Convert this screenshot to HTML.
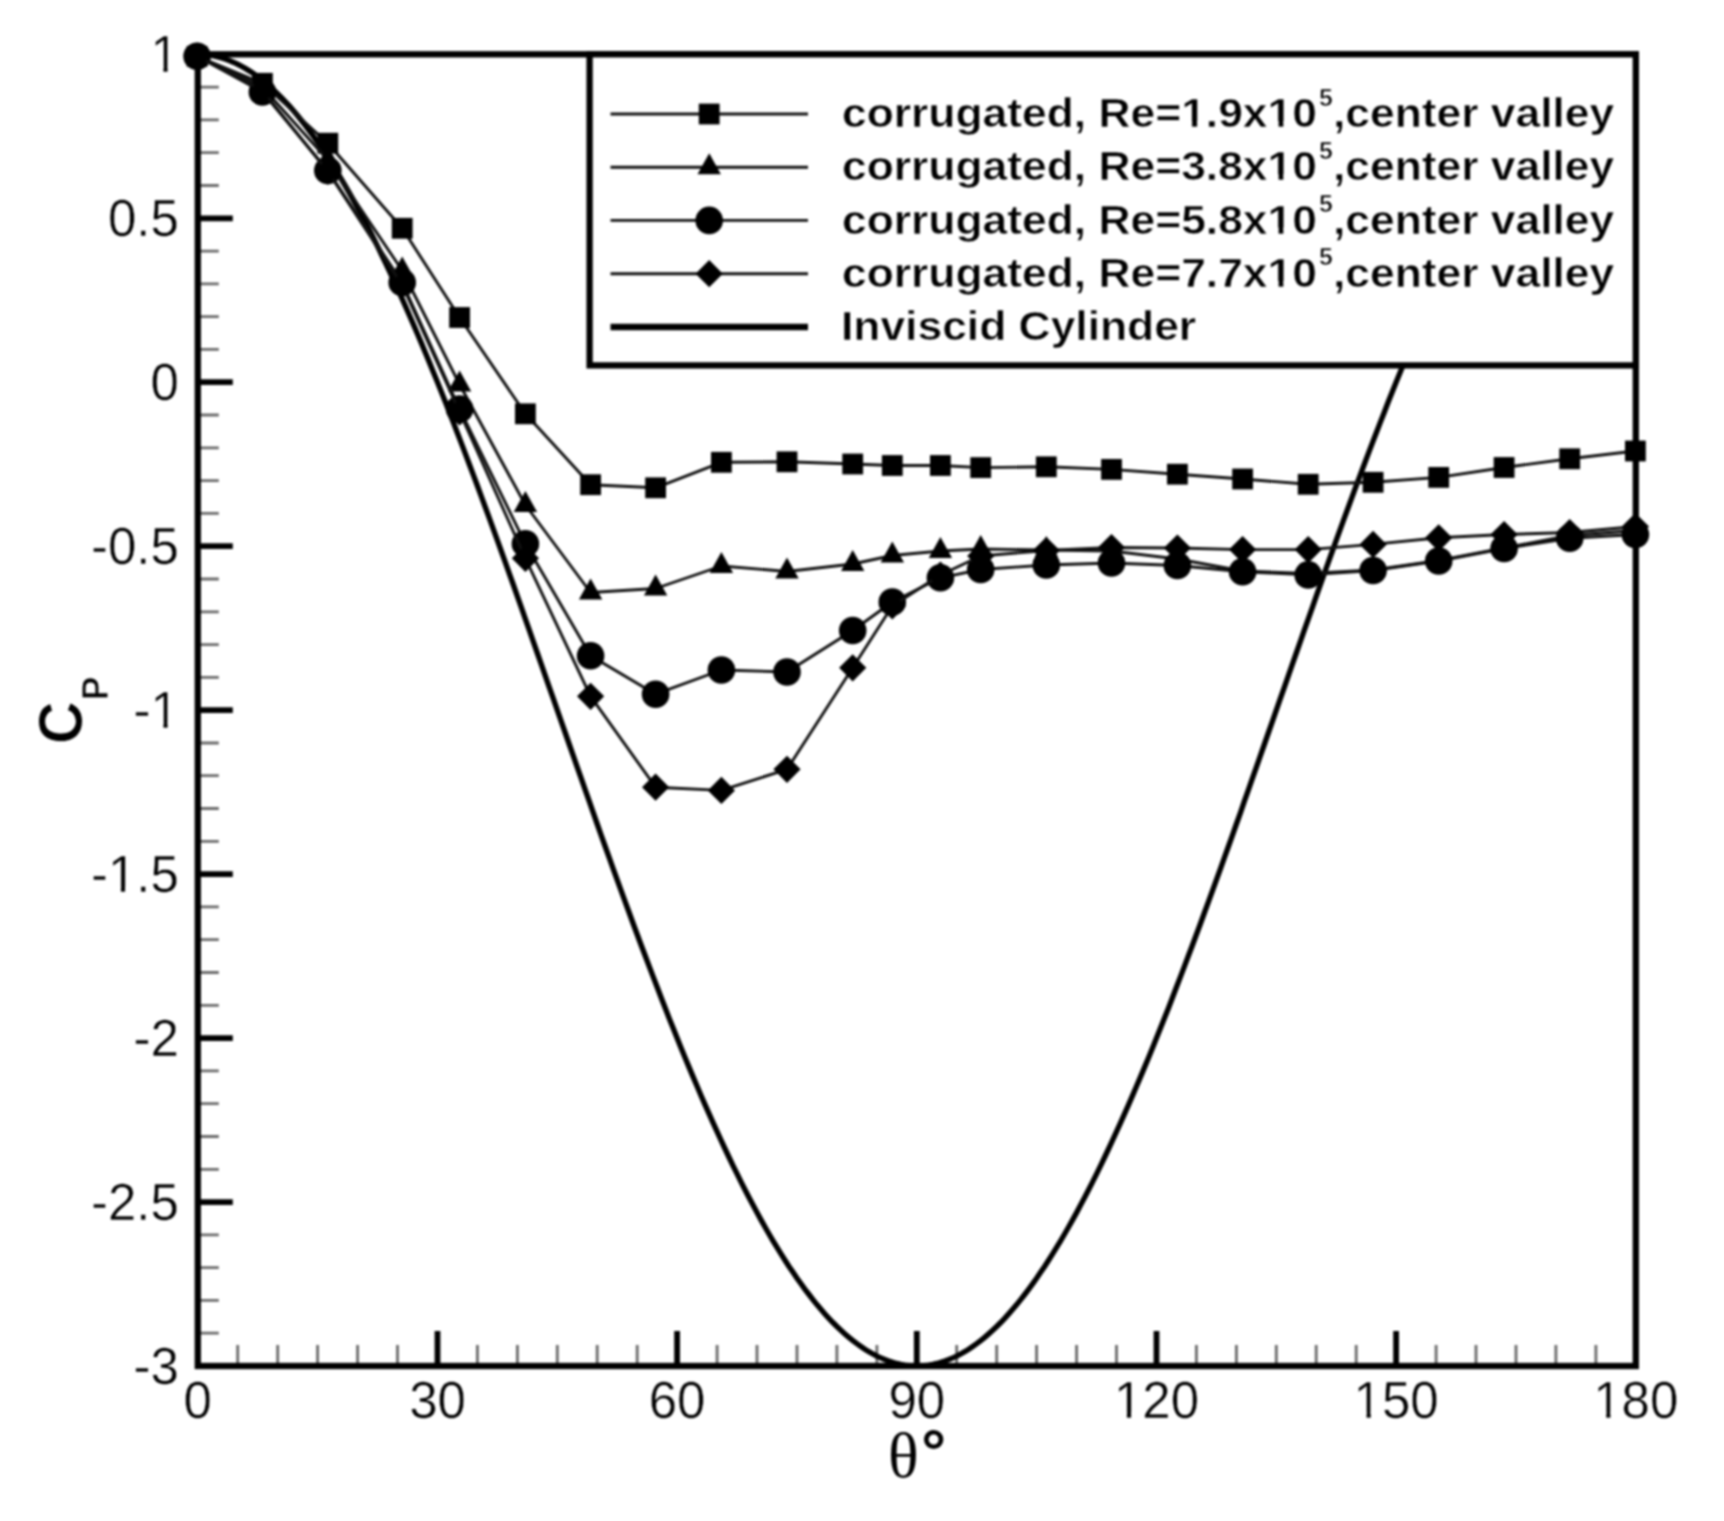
<!DOCTYPE html>
<html lang="en"><head><meta charset="utf-8"><title>Cp distribution</title>
<style>html,body{margin:0;padding:0;background:#fff}body{width:1724px;height:1521px;overflow:hidden}svg{display:block;filter:blur(1.1px)}</style>
</head><body>
<svg width="1724" height="1521" viewBox="0 0 1724 1521">
<rect width="1724" height="1521" fill="#fff"/>
<defs><clipPath id="pc"><rect x="197.8" y="54.3" width="1438.002" height="1311.72"/></clipPath></defs>
<path d="M197.8,87.1h21 M197.8,119.9h21 M197.8,152.7h21 M197.8,185.5h21 M197.8,251.1h21 M197.8,283.9h21 M197.8,316.6h21 M197.8,349.4h21 M197.8,415.0h21 M197.8,447.8h21 M197.8,480.6h21 M197.8,513.4h21 M197.8,579.0h21 M197.8,611.8h21 M197.8,644.6h21 M197.8,677.4h21 M197.8,743.0h21 M197.8,775.7h21 M197.8,808.5h21 M197.8,841.3h21 M197.8,906.9h21 M197.8,939.7h21 M197.8,972.5h21 M197.8,1005.3h21 M197.8,1070.9h21 M197.8,1103.7h21 M197.8,1136.5h21 M197.8,1169.3h21 M197.8,1234.8h21 M197.8,1267.6h21 M197.8,1300.4h21 M197.8,1333.2h21 M237.7,1366.02v-21 M277.7,1366.02v-21 M317.6,1366.02v-21 M357.6,1366.02v-21 M397.5,1366.02v-21 M477.4,1366.02v-21 M517.4,1366.02v-21 M557.3,1366.02v-21 M597.2,1366.02v-21 M637.2,1366.02v-21 M717.1,1366.02v-21 M757.0,1366.02v-21 M797.0,1366.02v-21 M836.9,1366.02v-21 M876.9,1366.02v-21 M956.7,1366.02v-21 M996.7,1366.02v-21 M1036.6,1366.02v-21 M1076.6,1366.02v-21 M1116.5,1366.02v-21 M1196.4,1366.02v-21 M1236.4,1366.02v-21 M1276.3,1366.02v-21 M1316.2,1366.02v-21 M1356.2,1366.02v-21 M1436.1,1366.02v-21 M1476.0,1366.02v-21 M1516.0,1366.02v-21 M1555.9,1366.02v-21 M1595.9,1366.02v-21" stroke="#6a6a6a" stroke-width="2.8" fill="none"/>
<path d="M197.8,218.3h35 M197.8,382.2h35 M197.8,546.2h35 M197.8,710.2h35 M197.8,874.1h35 M197.8,1038.1h35 M197.8,1202.1h35 M437.5,1366.02v-35 M677.1,1366.02v-35 M916.8,1366.02v-35 M1156.5,1366.02v-35 M1396.1,1366.02v-35" stroke="#000" stroke-width="5.8" fill="none"/>
<g clip-path="url(#pc)"><polyline points="197.8,54.3 201.8,54.4 205.8,54.7 209.8,55.2 213.8,55.9 217.8,56.8 221.8,57.9 225.8,59.2 229.8,60.7 233.8,62.4 237.7,64.3 241.7,66.3 245.7,68.6 249.7,71.1 253.7,73.8 257.7,76.6 261.7,79.7 265.7,83.0 269.7,86.4 273.7,90.0 277.7,93.9 281.7,97.9 285.7,102.1 289.7,106.4 293.7,111.0 297.7,115.7 301.7,120.7 305.7,125.8 309.6,131.1 313.6,136.5 317.6,142.2 321.6,148.0 325.6,154.0 329.6,160.1 333.6,166.4 337.6,172.9 341.6,179.6 345.6,186.4 349.6,193.3 353.6,200.5 357.6,207.7 361.6,215.2 365.6,222.8 369.6,230.5 373.6,238.4 377.6,246.4 381.5,254.6 385.5,262.9 389.5,271.3 393.5,279.9 397.5,288.6 401.5,297.4 405.5,306.4 409.5,315.5 413.5,324.7 417.5,334.0 421.5,343.4 425.5,353.0 429.5,362.6 433.5,372.4 437.5,382.2 441.5,392.2 445.5,402.3 449.5,412.4 453.4,422.6 457.4,433.0 461.4,443.4 465.4,453.9 469.4,464.5 473.4,475.1 477.4,485.8 481.4,496.6 485.4,507.5 489.4,518.4 493.4,529.4 497.4,540.4 501.4,551.5 505.4,562.6 509.4,573.8 513.4,585.0 517.4,596.3 521.4,607.6 525.3,618.9 529.3,630.2 533.3,641.6 537.3,653.0 541.3,664.4 545.3,675.8 549.3,687.3 553.3,698.7 557.3,710.2 561.3,721.6 565.3,733.0 569.3,744.5 573.3,755.9 577.3,767.3 581.3,778.7 585.3,790.1 589.3,801.4 593.3,812.8 597.2,824.0 601.2,835.3 605.2,846.5 609.2,857.7 613.2,868.8 617.2,879.9 621.2,890.9 625.2,901.9 629.2,912.8 633.2,923.7 637.2,934.5 641.2,945.2 645.2,955.8 649.2,966.4 653.2,976.9 657.2,987.3 661.2,997.7 665.2,1007.9 669.1,1018.1 673.1,1028.1 677.1,1038.1 681.1,1048.0 685.1,1057.7 689.1,1067.4 693.1,1076.9 697.1,1086.3 701.1,1095.7 705.1,1104.9 709.1,1113.9 713.1,1122.9 717.1,1131.7 721.1,1140.4 725.1,1149.0 729.1,1157.5 733.1,1165.8 737.1,1173.9 741.0,1181.9 745.0,1189.8 749.0,1197.6 753.0,1205.1 757.0,1212.6 761.0,1219.9 765.0,1227.0 769.0,1234.0 773.0,1240.8 777.0,1247.4 781.0,1253.9 785.0,1260.2 789.0,1266.4 793.0,1272.3 797.0,1278.2 801.0,1283.8 805.0,1289.3 809.0,1294.5 812.9,1299.6 816.9,1304.6 820.9,1309.3 824.9,1313.9 828.9,1318.3 832.9,1322.5 836.9,1326.5 840.9,1330.3 844.9,1333.9 848.9,1337.4 852.9,1340.6 856.9,1343.7 860.9,1346.5 864.9,1349.2 868.9,1351.7 872.9,1354.0 876.9,1356.1 880.9,1357.9 884.8,1359.6 888.8,1361.1 892.8,1362.4 896.8,1363.5 900.8,1364.4 904.8,1365.1 908.8,1365.6 912.8,1365.9 916.8,1366.0 920.8,1365.9 924.8,1365.6 928.8,1365.1 932.8,1364.4 936.8,1363.5 940.8,1362.4 944.8,1361.1 948.8,1359.6 952.8,1357.9 956.7,1356.1 960.7,1354.0 964.7,1351.7 968.7,1349.2 972.7,1346.5 976.7,1343.7 980.7,1340.6 984.7,1337.4 988.7,1333.9 992.7,1330.3 996.7,1326.5 1000.7,1322.5 1004.7,1318.3 1008.7,1313.9 1012.7,1309.3 1016.7,1304.6 1020.7,1299.6 1024.7,1294.5 1028.6,1289.3 1032.6,1283.8 1036.6,1278.2 1040.6,1272.3 1044.6,1266.4 1048.6,1260.2 1052.6,1253.9 1056.6,1247.4 1060.6,1240.8 1064.6,1234.0 1068.6,1227.0 1072.6,1219.9 1076.6,1212.6 1080.6,1205.1 1084.6,1197.6 1088.6,1189.8 1092.6,1181.9 1096.6,1173.9 1100.5,1165.8 1104.5,1157.5 1108.5,1149.0 1112.5,1140.4 1116.5,1131.7 1120.5,1122.9 1124.5,1113.9 1128.5,1104.9 1132.5,1095.7 1136.5,1086.3 1140.5,1076.9 1144.5,1067.4 1148.5,1057.7 1152.5,1048.0 1156.5,1038.1 1160.5,1028.1 1164.5,1018.1 1168.5,1007.9 1172.4,997.7 1176.4,987.3 1180.4,976.9 1184.4,966.4 1188.4,955.8 1192.4,945.2 1196.4,934.5 1200.4,923.7 1204.4,912.8 1208.4,901.9 1212.4,890.9 1216.4,879.9 1220.4,868.8 1224.4,857.7 1228.4,846.5 1232.4,835.3 1236.4,824.0 1240.4,812.8 1244.3,801.4 1248.3,790.1 1252.3,778.7 1256.3,767.3 1260.3,755.9 1264.3,744.5 1268.3,733.0 1272.3,721.6 1276.3,710.2 1280.3,698.7 1284.3,687.3 1288.3,675.8 1292.3,664.4 1296.3,653.0 1300.3,641.6 1304.3,630.2 1308.3,618.9 1312.3,607.6 1316.2,596.3 1320.2,585.0 1324.2,573.8 1328.2,562.6 1332.2,551.5 1336.2,540.4 1340.2,529.4 1344.2,518.4 1348.2,507.5 1352.2,496.6 1356.2,485.8 1360.2,475.1 1364.2,464.5 1368.2,453.9 1372.2,443.4 1376.2,433.0 1380.2,422.6 1384.2,412.4 1388.1,402.3 1392.1,392.2 1396.1,382.2 1400.1,372.4 1404.1,362.6 1408.1,353.0 1412.1,343.4 1416.1,334.0 1420.1,324.7 1424.1,315.5 1428.1,306.4 1432.1,297.4 1436.1,288.6 1440.1,279.9 1444.1,271.3 1448.1,262.9 1452.1,254.6 1456.1,246.4 1460.0,238.4 1464.0,230.5 1468.0,222.8 1472.0,215.2 1476.0,207.7 1480.0,200.5 1484.0,193.3 1488.0,186.4 1492.0,179.6 1496.0,172.9 1500.0,166.4 1504.0,160.1 1508.0,154.0 1512.0,148.0 1516.0,142.2 1520.0,136.5 1524.0,131.1 1528.0,125.8 1531.9,120.7 1535.9,115.7 1539.9,111.0 1543.9,106.4 1547.9,102.1 1551.9,97.9 1555.9,93.9 1559.9,90.0 1563.9,86.4 1567.9,83.0 1571.9,79.7 1575.9,76.6 1579.9,73.8 1583.9,71.1 1587.9,68.6 1591.9,66.3 1595.9,64.3 1599.9,62.4 1603.8,60.7 1607.8,59.2 1611.8,57.9 1615.8,56.8 1619.8,55.9 1623.8,55.2 1627.8,54.7 1631.8,54.4 1635.8,54.3" fill="none" stroke="#000" stroke-width="5.4"/></g>
<g fill="#000">
<polyline points="197.1,56.3 262.4,83.3 327.8,143.2 402.2,228.3 459.6,317.5 525.4,413.8 590.6,484.7 655.6,487.8 721.4,462.3 787.0,461.8 852.7,464.0 892.3,465.5 940.4,465.5 980.7,467.6 1046.3,466.8 1111.5,469.4 1177.4,474.2 1242.6,479.0 1308.2,484.3 1373.1,482.3 1438.7,477.4 1504.1,467.5 1569.7,458.8 1635.4,451.0" fill="none" stroke="#111" stroke-width="2.9" stroke-linejoin="round"/><rect x="186.7" y="45.9" width="20.8" height="20.8"/><rect x="252.0" y="72.9" width="20.8" height="20.8"/><rect x="317.4" y="132.8" width="20.8" height="20.8"/><rect x="391.8" y="217.9" width="20.8" height="20.8"/><rect x="449.2" y="307.1" width="20.8" height="20.8"/><rect x="515.0" y="403.4" width="20.8" height="20.8"/><rect x="580.2" y="474.3" width="20.8" height="20.8"/><rect x="645.2" y="477.4" width="20.8" height="20.8"/><rect x="711.0" y="451.9" width="20.8" height="20.8"/><rect x="776.6" y="451.4" width="20.8" height="20.8"/><rect x="842.3" y="453.6" width="20.8" height="20.8"/><rect x="881.9" y="455.1" width="20.8" height="20.8"/><rect x="930.0" y="455.1" width="20.8" height="20.8"/><rect x="970.3" y="457.2" width="20.8" height="20.8"/><rect x="1035.9" y="456.4" width="20.8" height="20.8"/><rect x="1101.1" y="459.0" width="20.8" height="20.8"/><rect x="1167.0" y="463.8" width="20.8" height="20.8"/><rect x="1232.2" y="468.6" width="20.8" height="20.8"/><rect x="1297.8" y="473.9" width="20.8" height="20.8"/><rect x="1362.7" y="471.9" width="20.8" height="20.8"/><rect x="1428.3" y="467.0" width="20.8" height="20.8"/><rect x="1493.7" y="457.1" width="20.8" height="20.8"/><rect x="1559.3" y="448.4" width="20.8" height="20.8"/><rect x="1625.0" y="440.6" width="20.8" height="20.8"/>
<polyline points="197.1,56.3 262.4,87.0 327.8,160.0 402.2,270.5 459.6,384.5 525.4,505.0 590.6,592.5 655.6,588.5 721.4,566.0 787.0,571.5 852.7,564.0 892.3,555.5 940.4,551.0 980.7,549.0 1046.3,550.0 1111.5,551.0 1177.4,559.0 1242.6,571.0 1308.2,573.5 1373.1,570.0 1438.7,560.5 1504.1,548.0 1569.7,535.5 1635.4,530.5" fill="none" stroke="#111" stroke-width="2.9" stroke-linejoin="round"/><path d="M197.1,42.3 L208.8,63.3 L185.4,63.3Z"/><path d="M262.4,73.0 L274.1,94.0 L250.7,94.0Z"/><path d="M327.8,146.0 L339.5,167.0 L316.1,167.0Z"/><path d="M402.2,256.5 L413.9,277.5 L390.5,277.5Z"/><path d="M459.6,370.5 L471.3,391.5 L447.9,391.5Z"/><path d="M525.4,491.0 L537.1,512.0 L513.7,512.0Z"/><path d="M590.6,578.5 L602.3,599.5 L578.9,599.5Z"/><path d="M655.6,574.5 L667.3,595.5 L643.9,595.5Z"/><path d="M721.4,552.0 L733.1,573.0 L709.7,573.0Z"/><path d="M787.0,557.5 L798.7,578.5 L775.3,578.5Z"/><path d="M852.7,550.0 L864.4,571.0 L841.0,571.0Z"/><path d="M892.3,541.5 L904.0,562.5 L880.6,562.5Z"/><path d="M940.4,537.0 L952.1,558.0 L928.7,558.0Z"/><path d="M980.7,535.0 L992.4,556.0 L969.0,556.0Z"/><path d="M1046.3,536.0 L1058.0,557.0 L1034.6,557.0Z"/><path d="M1111.5,537.0 L1123.2,558.0 L1099.8,558.0Z"/><path d="M1177.4,545.0 L1189.1,566.0 L1165.7,566.0Z"/><path d="M1242.6,557.0 L1254.3,578.0 L1230.9,578.0Z"/><path d="M1308.2,559.5 L1319.9,580.5 L1296.5,580.5Z"/><path d="M1373.1,556.0 L1384.8,577.0 L1361.4,577.0Z"/><path d="M1438.7,546.5 L1450.4,567.5 L1427.0,567.5Z"/><path d="M1504.1,534.0 L1515.8,555.0 L1492.4,555.0Z"/><path d="M1569.7,521.5 L1581.4,542.5 L1558.0,542.5Z"/><path d="M1635.4,516.5 L1647.1,537.5 L1623.7,537.5Z"/>
<polyline points="197.1,56.3 262.4,92.0 327.8,170.5 402.2,282.5 459.6,409.0 525.4,543.8 590.6,655.7 655.6,694.2 721.4,670.0 787.0,672.0 852.7,630.5 892.3,602.0 940.4,577.8 980.7,569.5 1046.3,565.0 1111.5,563.0 1177.4,565.5 1242.6,571.8 1308.2,574.9 1373.1,570.5 1438.7,561.0 1504.1,548.5 1569.7,538.2 1635.4,534.5" fill="none" stroke="#111" stroke-width="2.9" stroke-linejoin="round"/><circle cx="197.1" cy="56.3" r="13.8"/><circle cx="262.4" cy="92.0" r="13.8"/><circle cx="327.8" cy="170.5" r="13.8"/><circle cx="402.2" cy="282.5" r="13.8"/><circle cx="459.6" cy="409.0" r="13.8"/><circle cx="525.4" cy="543.8" r="13.8"/><circle cx="590.6" cy="655.7" r="13.8"/><circle cx="655.6" cy="694.2" r="13.8"/><circle cx="721.4" cy="670.0" r="13.8"/><circle cx="787.0" cy="672.0" r="13.8"/><circle cx="852.7" cy="630.5" r="13.8"/><circle cx="892.3" cy="602.0" r="13.8"/><circle cx="940.4" cy="577.8" r="13.8"/><circle cx="980.7" cy="569.5" r="13.8"/><circle cx="1046.3" cy="565.0" r="13.8"/><circle cx="1111.5" cy="563.0" r="13.8"/><circle cx="1177.4" cy="565.5" r="13.8"/><circle cx="1242.6" cy="571.8" r="13.8"/><circle cx="1308.2" cy="574.9" r="13.8"/><circle cx="1373.1" cy="570.5" r="13.8"/><circle cx="1438.7" cy="561.0" r="13.8"/><circle cx="1504.1" cy="548.5" r="13.8"/><circle cx="1569.7" cy="538.2" r="13.8"/><circle cx="1635.4" cy="534.5" r="13.8"/>
<polyline points="197.1,56.3 262.4,90.5 327.8,171.5 402.2,285.0 459.6,412.0 525.4,558.3 590.6,696.3 655.6,787.2 721.4,790.4 787.0,769.3 852.7,667.8 892.3,606.0 940.4,575.0 980.7,556.0 1046.3,550.5 1111.5,547.5 1177.4,548.0 1242.6,549.6 1308.2,549.6 1373.1,544.4 1438.7,537.8 1504.1,534.5 1569.7,532.5 1635.4,526.5" fill="none" stroke="#111" stroke-width="2.9" stroke-linejoin="round"/><path d="M197.1,42.7 L210.7,56.3 L197.1,69.9 L183.5,56.3Z"/><path d="M262.4,76.9 L276.0,90.5 L262.4,104.1 L248.8,90.5Z"/><path d="M327.8,157.9 L341.4,171.5 L327.8,185.1 L314.2,171.5Z"/><path d="M402.2,271.4 L415.8,285.0 L402.2,298.6 L388.6,285.0Z"/><path d="M459.6,398.4 L473.2,412.0 L459.6,425.6 L446.0,412.0Z"/><path d="M525.4,544.7 L539.0,558.3 L525.4,571.9 L511.8,558.3Z"/><path d="M590.6,682.7 L604.2,696.3 L590.6,709.9 L577.0,696.3Z"/><path d="M655.6,773.6 L669.2,787.2 L655.6,800.8 L642.0,787.2Z"/><path d="M721.4,776.8 L735.0,790.4 L721.4,804.0 L707.8,790.4Z"/><path d="M787.0,755.7 L800.6,769.3 L787.0,782.9 L773.4,769.3Z"/><path d="M852.7,654.2 L866.3,667.8 L852.7,681.4 L839.1,667.8Z"/><path d="M892.3,592.4 L905.9,606.0 L892.3,619.6 L878.7,606.0Z"/><path d="M940.4,561.4 L954.0,575.0 L940.4,588.6 L926.8,575.0Z"/><path d="M980.7,542.4 L994.3,556.0 L980.7,569.6 L967.1,556.0Z"/><path d="M1046.3,536.9 L1059.9,550.5 L1046.3,564.1 L1032.7,550.5Z"/><path d="M1111.5,533.9 L1125.1,547.5 L1111.5,561.1 L1097.9,547.5Z"/><path d="M1177.4,534.4 L1191.0,548.0 L1177.4,561.6 L1163.8,548.0Z"/><path d="M1242.6,536.0 L1256.2,549.6 L1242.6,563.2 L1229.0,549.6Z"/><path d="M1308.2,536.0 L1321.8,549.6 L1308.2,563.2 L1294.6,549.6Z"/><path d="M1373.1,530.8 L1386.7,544.4 L1373.1,558.0 L1359.5,544.4Z"/><path d="M1438.7,524.2 L1452.3,537.8 L1438.7,551.4 L1425.1,537.8Z"/><path d="M1504.1,520.9 L1517.7,534.5 L1504.1,548.1 L1490.5,534.5Z"/><path d="M1569.7,518.9 L1583.3,532.5 L1569.7,546.1 L1556.1,532.5Z"/><path d="M1635.4,512.9 L1649.0,526.5 L1635.4,540.1 L1621.8,526.5Z"/>
</g>
<rect x="197.8" y="54.3" width="1438.0" height="1311.7" fill="none" stroke="#000" stroke-width="6.3"/>
<rect x="589.6" y="54.3" width="1046.2" height="311.1" fill="#fff" stroke="#000" stroke-width="6.3"/>
<line x1="610.5" y1="114" x2="808" y2="114" stroke="#111" stroke-width="2.9"/>
<line x1="610.5" y1="167.2" x2="808" y2="167.2" stroke="#111" stroke-width="2.9"/>
<line x1="610.5" y1="220.4" x2="808" y2="220.4" stroke="#111" stroke-width="2.9"/>
<line x1="610.5" y1="273.7" x2="808" y2="273.7" stroke="#111" stroke-width="2.9"/>
<line x1="610.5" y1="327" x2="808" y2="327" stroke="#000" stroke-width="6.5"/>
<rect x="698.8000000000001" y="103.6" width="20.8" height="20.8"/>
<path d="M709.2,153.2 L720.9000000000001,174.2 L697.5,174.2Z"/>
<circle cx="709.2" cy="220.4" r="13.8"/>
<path d="M709.2,260.09999999999997 L722.8000000000001,273.7 L709.2,287.3 L695.6,273.7Z"/>
<g font-family="'Liberation Sans', Arial, Helvetica, sans-serif" font-weight="700" font-size="41" fill="#000" stroke="#fff" stroke-width="0.6">
<g transform="translate(842,127.2) scale(1.083,1)"><text>corrugated, Re=1.9x10<tspan font-size="23" dy="-21.5" dx="2">5</tspan><tspan dy="21.5">,center valley</tspan></text><rect x="394.76" y="-5.7" width="8.00" height="6.6" fill="#fff"/><rect x="407.91" y="-5.7" width="7.45" height="6.6" fill="#fff"/><rect x="314.98" y="-5.7" width="8.00" height="6.6" fill="#fff"/><rect x="328.13" y="-5.7" width="7.45" height="6.6" fill="#fff"/></g>
<g transform="translate(842,180.4) scale(1.083,1)"><text>corrugated, Re=3.8x10<tspan font-size="23" dy="-21.5" dx="2">5</tspan><tspan dy="21.5">,center valley</tspan></text><rect x="394.76" y="-5.7" width="8.00" height="6.6" fill="#fff"/><rect x="407.91" y="-5.7" width="7.45" height="6.6" fill="#fff"/></g>
<g transform="translate(842,233.6) scale(1.083,1)"><text>corrugated, Re=5.8x10<tspan font-size="23" dy="-21.5" dx="2">5</tspan><tspan dy="21.5">,center valley</tspan></text><rect x="394.76" y="-5.7" width="8.00" height="6.6" fill="#fff"/><rect x="407.91" y="-5.7" width="7.45" height="6.6" fill="#fff"/></g>
<g transform="translate(842,286.9) scale(1.083,1)"><text>corrugated, Re=7.7x10<tspan font-size="23" dy="-21.5" dx="2">5</tspan><tspan dy="21.5">,center valley</tspan></text><rect x="394.76" y="-5.7" width="8.00" height="6.6" fill="#fff"/><rect x="407.91" y="-5.7" width="7.45" height="6.6" fill="#fff"/></g>
<text transform="translate(841,340.2) scale(1.0826,1)">Inviscid Cylinder</text>
</g>
<g font-family="'Liberation Sans', Arial, Helvetica, sans-serif" font-size="51" fill="#000" stroke="#fff" stroke-width="0.5">
<text x="178.8" y="72.3" text-anchor="end">1</text>
<text x="178.8" y="236.3" text-anchor="end">0.5</text>
<text x="178.8" y="400.2" text-anchor="end">0</text>
<text x="178.8" y="564.2" text-anchor="end">-0.5</text>
<text x="178.8" y="728.2" text-anchor="end">-1</text>
<text x="178.8" y="892.1" text-anchor="end">-1.5</text>
<text x="178.8" y="1056.1" text-anchor="end">-2</text>
<text x="178.8" y="1220.1" text-anchor="end">-2.5</text>
<text x="178.8" y="1384.0" text-anchor="end">-3</text>
<text x="197.8" y="1417.5" text-anchor="middle">0</text>
<text x="437.5" y="1417.5" text-anchor="middle">30</text>
<text x="677.1" y="1417.5" text-anchor="middle">60</text>
<text x="916.8" y="1417.5" text-anchor="middle">90</text>
<text x="1156.5" y="1417.5" text-anchor="middle">120</text>
<text x="1396.1" y="1417.5" text-anchor="middle">150</text>
<text x="1635.8" y="1417.5" text-anchor="middle">180</text>
</g>
<rect x="153.24" y="67.20" width="10.17" height="6.1" fill="#fff"/><rect x="167.62" y="67.20" width="9.82" height="6.1" fill="#fff"/>
<rect x="153.24" y="723.06" width="10.17" height="6.1" fill="#fff"/><rect x="167.62" y="723.06" width="9.82" height="6.1" fill="#fff"/>
<rect x="110.70" y="887.02" width="10.17" height="6.1" fill="#fff"/><rect x="125.08" y="887.02" width="9.82" height="6.1" fill="#fff"/>
<rect x="1116.72" y="1412.40" width="10.17" height="6.1" fill="#fff"/><rect x="1131.10" y="1412.40" width="9.82" height="6.1" fill="#fff"/>
<rect x="1356.39" y="1412.40" width="10.17" height="6.1" fill="#fff"/><rect x="1370.77" y="1412.40" width="9.82" height="6.1" fill="#fff"/>
<rect x="1596.06" y="1412.40" width="10.17" height="6.1" fill="#fff"/><rect x="1610.44" y="1412.40" width="9.82" height="6.1" fill="#fff"/>
<text transform="translate(81.6,744) rotate(-90) scale(0.985,1.05)" stroke="#fff" stroke-width="0.9" paint-order="fill stroke" font-family="'Liberation Sans', Arial, Helvetica, sans-serif" font-weight="700" font-size="60" fill="#000">C<tspan font-size="36" dy="25.2" dx="1">P</tspan></text>
<text x="888" y="1477" font-size="64" fill="#000"><tspan font-family="'Liberation Serif', 'Times New Roman', serif">θ</tspan><tspan font-family="'Liberation Sans', Arial, sans-serif" font-weight="700" font-size="62" dx="2.5" dy="-4.5">°</tspan></text>
</svg>
</body></html>
